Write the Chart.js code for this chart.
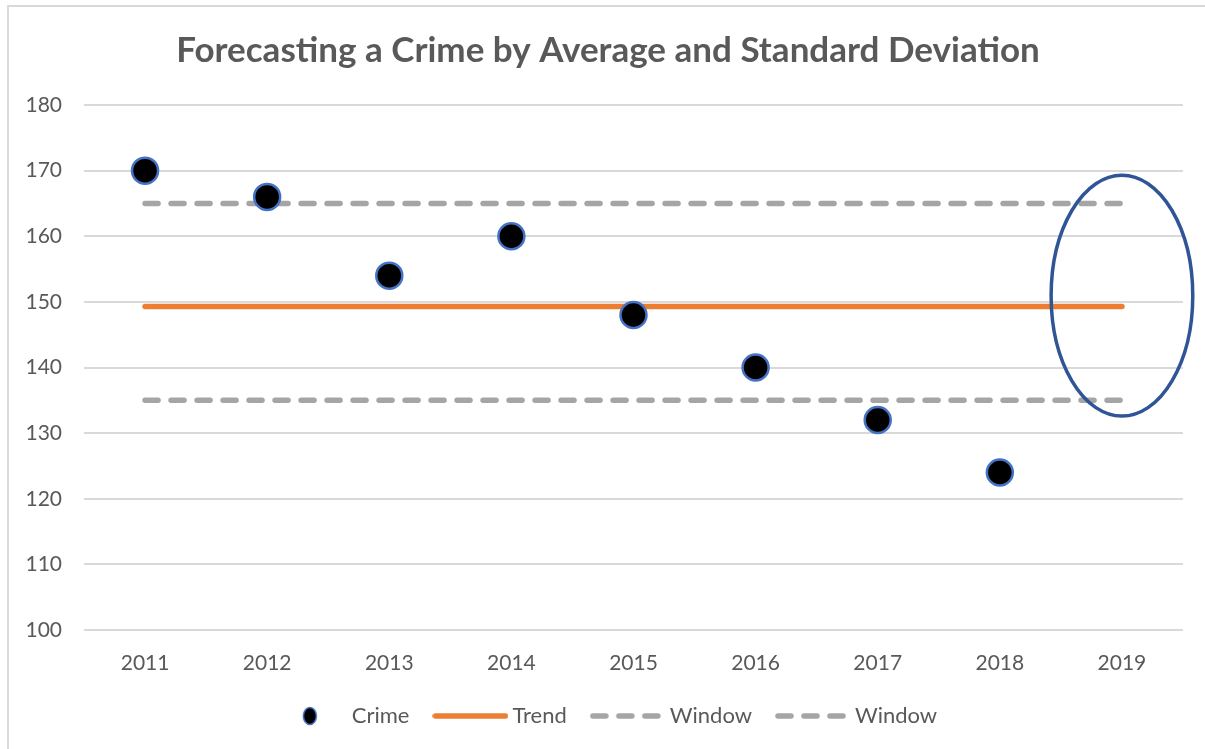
<!DOCTYPE html>
<html><head><meta charset="utf-8">
<script src="https://cdn.jsdelivr.net/npm/chart.js@4.4.1/dist/chart.umd.min.js"></script>
<style>
html,body{margin:0;padding:0;background:#fff;overflow:hidden}
#wrap{position:relative;width:1205px;height:749px;overflow:hidden}
#frame{position:absolute;left:7px;top:5px;right:-10px;bottom:-10px;border-top:2px solid #d9d9d9;border-left:2px solid #d9d9d9;pointer-events:none}
canvas{display:block}
</style></head><body>
<div id="wrap"><canvas id="c" width="1205" height="749"></canvas><div id="frame"></div></div>
<script>
// ---- data ----
const years = ['2011','2012','2013','2014','2015','2016','2017','2018','2019'];
const crimeValues = [170, 166, 154, 160, 148, 140, 132, 124];
const trendValues = [149.3, 149.3, 149.3, 149.3, 149.3, 149.3, 149.3, 149.3, 149.3];
const windowUpperValues = [165, 165, 165, 165, 165, 165, 165, 165, 165];
const windowLowerValues = [135, 135, 135, 135, 135, 135, 135, 135, 135];
const seriesNames = ['Crime', 'Trend', 'Window', 'Window'];
const yTickValues = [100, 110, 120, 130, 140, 150, 160, 170, 180];
const titleText = 'Forecasting a Crime by Average and Standard Deviation';
// forecast highlight ellipse (data units)
const highlightCategory = '2019';
const highlightTop = 169.3;
const highlightBottom = 132.6;
const highlightHalfWidth = 0.58; // in category widths

// ---- styles ----
const TEXT = '#595959';
const GRID = '#d9d9d9';
const ORANGE = '#ED7D31';
const GRAYLINE = '#A5A5A5';
const BLUE = '#4472C4';
const ELLIPSE = '#2F5597';
const FONT = 'Lato, "Open Sans", sans-serif';
const legendShift = 0;

function makeIcon(kind) {
  const c = document.createElement('canvas');
  c.width = 76; c.height = 22;
  const g = c.getContext('2d');
  if (kind === 'dot') {
    g.beginPath();
    g.ellipse(38, 11, 6.5, 8.5, 0, 0, Math.PI * 2);
    g.fillStyle = '#000'; g.fill();
    g.lineWidth = 1.5; g.strokeStyle = BLUE; g.stroke();
  } else {
    g.beginPath();
    g.lineCap = 'round';
    g.lineWidth = 5.5;
    g.strokeStyle = kind === 'line' ? ORANGE : GRAYLINE;
    if (kind === 'dash') g.setLineDash([13, 13]);
    g.moveTo(3, 11); g.lineTo(73, 11);
    g.stroke();
  }
  return c;
}
const icons = [makeIcon('dot'), makeIcon('line'), makeIcon('dash'), makeIcon('dash')];

const ellipsePlugin = {
  id: 'forecastEllipse',
  afterLayout(chart) {
    if (chart.legend) { chart.legend.left += legendShift; chart.legend.right += legendShift; }
  },
  afterDatasetsDraw(chart) {
    const xs = chart.scales.x, ys = chart.scales.y;
    const idx = years.indexOf(highlightCategory);
    const cx = xs.getPixelForValue(idx);
    const step = xs.getPixelForValue(1) - xs.getPixelForValue(0);
    const yt = ys.getPixelForValue(highlightTop), yb = ys.getPixelForValue(highlightBottom);
    const ctx = chart.ctx;
    ctx.save();
    ctx.beginPath();
    ctx.ellipse(cx, (yt + yb) / 2, step * highlightHalfWidth, (yb - yt) / 2, 0, 0, Math.PI * 2);
    ctx.lineWidth = 3.5;
    ctx.strokeStyle = ELLIPSE;
    ctx.stroke();
    ctx.restore();
  }
};

const chart = new Chart(document.getElementById('c'), {
  type: 'line',
  data: {
    labels: years,
    datasets: [
      { label: seriesNames[0], data: crimeValues, showLine: false,
        pointRadius: 13, pointHoverRadius: 13, pointBackgroundColor: '#000',
        pointBorderColor: BLUE, pointBorderWidth: 2.5, borderColor: BLUE, backgroundColor: '#000' },
      { label: seriesNames[1], data: trendValues, borderColor: ORANGE, borderWidth: 5.5,
        borderCapStyle: 'round', pointRadius: 0, pointHoverRadius: 0, tension: 0 },
      { label: seriesNames[2], data: windowUpperValues, borderColor: GRAYLINE, borderWidth: 5.5,
        borderCapStyle: 'round', borderDash: [13, 13], pointRadius: 0, pointHoverRadius: 0 },
      { label: seriesNames[3], data: windowLowerValues, borderColor: GRAYLINE, borderWidth: 5.5,
        borderCapStyle: 'round', borderDash: [13, 13], pointRadius: 0, pointHoverRadius: 0 }
    ]
  },
  options: {
    responsive: false,
    animation: false,
    events: [],
    layout: { padding: { left: 11, right: 0, top: 0, bottom: 12 } },
    plugins: {
      tooltip: { enabled: false },
      title: {
        display: true, text: titleText, color: TEXT,
        font: { family: FONT, size: 35, weight: 'bold' },
        padding: { top: 30, bottom: 33 }
      },
      legend: {
        position: 'bottom',
        labels: {
          color: TEXT,
          font: { family: FONT, size: 22 },
          boxWidth: 62,
          pointStyleWidth: 62,
          padding: 30,
          usePointStyle: true,
          generateLabels(ch) {
            return ch.data.datasets.map((ds, i) => ({
              text: ds.label, datasetIndex: i, hidden: false,
              pointStyle: icons[i], fontColor: TEXT, lineWidth: 0,
              strokeStyle: 'rgba(0,0,0,0)', fillStyle: 'rgba(0,0,0,0)'
            }));
          }
        }
      }
    },
    scales: {
      x: {
        offset: true,
        grid: { display: false },
        border: { display: false },
        ticks: { color: TEXT, font: { family: FONT, size: 21 }, padding: 13 },
        afterFit(s) { s.height = 45; }
      },
      y: {
        min: yTickValues[0], max: yTickValues[yTickValues.length - 1],
        afterBuildTicks(s) { s.ticks = yTickValues.map(v => ({ value: v })); },
        grid: { color: GRID, lineWidth: 2, drawTicks: false },
        border: { display: false },
        ticks: { color: TEXT, font: { family: FONT, size: 21 }, padding: 22 },
        afterFit(s) { s.width = 73; }
      },
      yRight: {
        position: 'right',
        display: true,
        grid: { display: false, drawTicks: false },
        border: { display: false },
        ticks: { display: false },
        afterFit(s) { s.width = 22; }
      }
    }
  },
  plugins: [ellipsePlugin]
});
</script>
</body></html>
